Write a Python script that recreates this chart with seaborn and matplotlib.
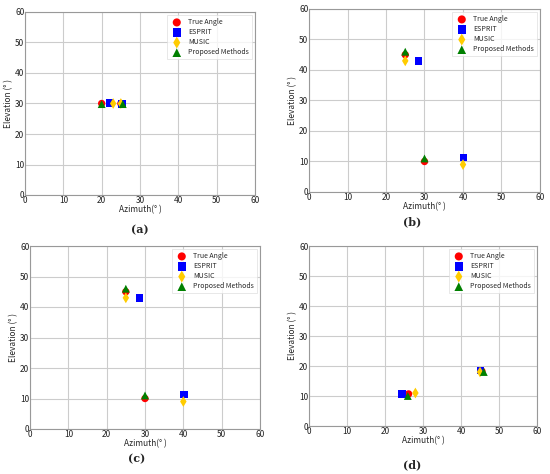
import matplotlib
matplotlib.use("Agg")
import matplotlib.pyplot as plt
import seaborn as sns
import pandas as pd

sns.set_theme(style="whitegrid")
plt.rcParams['font.family'] = ['Noto Sans CJK SC', 'DejaVu Sans']

series = ["True Angle", "ESPRIT", "MUSIC", "Proposed Methods"]
colors = ["#ff0000", "#0000ff", "#ffcc00", "#008000"]
markers = ["o", "s", "d", "^"]
sizes = [28, 28, 30, 32]

# panel (a)
a_true_az = [20, 25];   a_true_el = [30, 30]
a_esp_az = [22, 25.3];  a_esp_el = [30.2, 29.8]
a_mus_az = [23, 25];    a_mus_el = [30, 30]
a_pro_az = [20, 25.5];  a_pro_el = [29.8, 29.8]
# panels (b) and (c)
b_true_az = [25, 30];   b_true_el = [45, 10]
b_esp_az = [28.5, 40.2]; b_esp_el = [43, 11.3]
b_mus_az = [25, 40];    b_mus_el = [43, 9]
b_pro_az = [25, 30];    b_pro_el = [46, 11]
# panel (d)
d_true_az = [26.2, 45.5]; d_true_el = [10.7, 18.3]
d_esp_az = [24.5, 45.2];  d_esp_el = [10.7, 18.5]
d_mus_az = [28, 45];      d_mus_el = [11, 18]
d_pro_az = [26, 46];      d_pro_el = [10, 18]

ticks = [0, 10, 20, 30, 40, 50, 60]

panels = [
    ("(a)", [(a_true_az, a_true_el), (a_esp_az, a_esp_el), (a_mus_az, a_mus_el), (a_pro_az, a_pro_el)]),
    ("(b)", [(b_true_az, b_true_el), (b_esp_az, b_esp_el), (b_mus_az, b_mus_el), (b_pro_az, b_pro_el)]),
    ("(c)", [(b_true_az, b_true_el), (b_esp_az, b_esp_el), (b_mus_az, b_mus_el), (b_pro_az, b_pro_el)]),
    ("(d)", [(d_true_az, d_true_el), (d_esp_az, d_esp_el), (d_mus_az, d_mus_el), (d_pro_az, d_pro_el)]),
]

W, H = 550, 474
fig = plt.figure(figsize=(5.5, 4.74), dpi=100)
# axes rectangles in pixels: left, top, right, bottom
rects = [(25, 12, 255, 195), (309, 9, 540, 192), (30, 246, 260, 429), (309, 246, 537, 426)]
caps = [(140, 230), (412, 222), (137, 459), (412, 465)]

for (cap, data), (l, t, r, b), (cx, cy) in zip(panels, rects, caps):
    ax = fig.add_axes([l / W, 1 - b / H, (r - l) / W, (b - t) / H])
    for name, col, mk, sz, (xs, ys) in zip(series, colors, markers, sizes, data):
        df = pd.DataFrame({"az": xs, "el": ys})
        sns.scatterplot(data=df, x="az", y="el", ax=ax, color=col, marker=mk,
                        s=sz, edgecolor="none", label=name, zorder=3)
    ax.set_xlim(0, 60)
    ax.set_ylim(0, 60)
    ax.set_xticks(ticks)
    ax.set_yticks(ticks)
    ax.tick_params(labelsize=6, pad=0.5, length=0, labelcolor="#222222")
    ax.set_xlabel("Azimuth(° )", fontsize=6, labelpad=0, fontweight="medium")
    ax.set_ylabel("Elevation (° )", fontsize=6, labelpad=1, fontweight="medium")
    ax.grid(True, color="#cccccc", linewidth=0.8)
    for sp in ax.spines.values():
        sp.set_color("#999999")
        sp.set_linewidth(0.8)
    leg = ax.legend(loc="upper right", fontsize=5, frameon=True, borderpad=0.4,
                    handletextpad=0.6, labelspacing=0.3, markerscale=1.1, fancybox=False)
    leg.get_frame().set_edgecolor("#dddddd")
    leg.get_frame().set_linewidth(0.6)
    fig.text(cx / W, 1 - cy / H, cap, fontsize=8, fontweight="bold",
             family="DejaVu Serif", ha="center", va="center")

fig.savefig("out.png", dpi=100)
